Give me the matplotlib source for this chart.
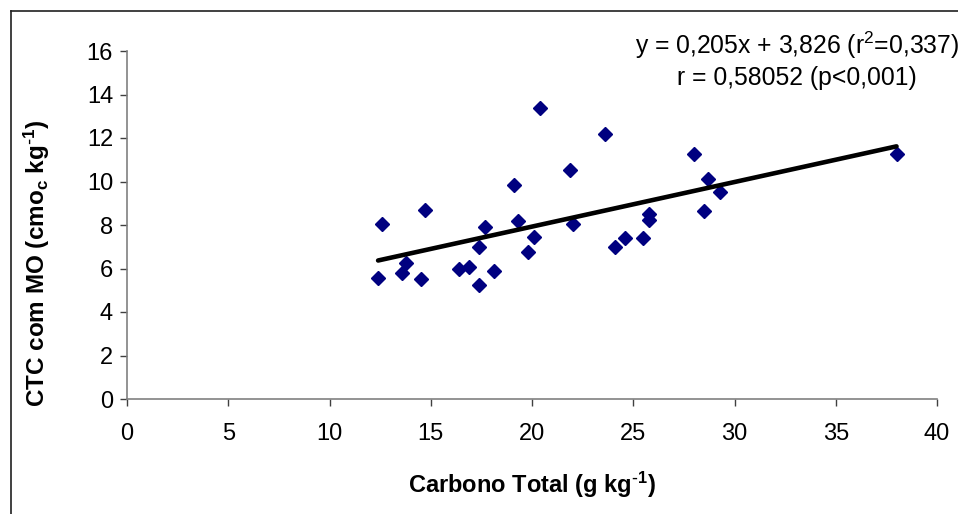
import numpy as np
import matplotlib.pyplot as plt
from matplotlib.lines import Line2D

plt.rcParams['font.family'] = ['Liberation Sans', 'DejaVu Sans']
plt.rcParams['mathtext.default'] = 'regular'
plt.rcParams['axes.unicode_minus'] = False

# data
carbono = [20.4, 23.6, 21.9, 19.1, 14.7, 12.6, 17.7, 19.3, 22.0, 20.1,
           17.4, 19.8, 13.8, 13.6, 12.4, 14.5, 16.4, 16.9, 18.1, 17.4,
           25.8, 25.8, 24.6, 24.1, 25.5, 28.0, 28.7, 29.3, 28.5, 38.0]
ctc = [13.4, 12.2, 10.55, 9.85, 8.7, 8.05, 7.9, 8.2, 8.05, 7.45,
       7.0, 6.75, 6.25, 5.8, 5.55, 5.5, 6.0, 6.05, 5.9, 5.25,
       8.5, 8.25, 7.4, 7.0, 7.4, 11.25, 10.1, 9.5, 8.65, 11.25]
slope = 0.205
intercept = 3.826
eq_text = "y = 0,205x + 3,826 (r$^{2}$=0,337)\nr = 0,58052 (p<0,001)"
xticks = [0, 5, 10, 15, 20, 25, 30, 35, 40]
yticks = [0, 2, 4, 6, 8, 10, 12, 14, 16]

W, H = 958, 514
fig = plt.figure(figsize=(W / 100, H / 100), dpi=100)
ax = fig.add_axes([127 / W, 1 - 399 / H, (937 - 127) / W, (399 - 51) / H])

ax.plot(carbono, ctc, linestyle='none', marker='D', ms=7.5,
        color='#000080', mec='#000080', zorder=3)
xl = np.array([min(carbono), max(carbono)])
ax.plot(xl, slope * xl + intercept, color='black', lw=3.3,
        solid_capstyle='round', zorder=4)

ax.set_xlim(0, 40)
ax.set_ylim(0, 16)
ax.set_xticks(xticks)
ax.set_yticks(yticks)
for s in ['top', 'right']:
    ax.spines[s].set_visible(False)
for s in ['left', 'bottom']:
    ax.spines[s].set_color('#808080')
    ax.spines[s].set_linewidth(1.2)
ax.tick_params(direction='out', length=5, width=1, color='#404040',
               labelsize=17)
ax.tick_params(axis='y', pad=5)
ax.tick_params(axis='x', pad=12)

ax.set_xlabel("Carbono Total (g kg$^{\\text{-}1}$)", fontsize=17,
              fontweight='bold', va='center')
ax.set_ylabel("CTC com MO (cmo$_{c}$ kg$^{\\text{-}1}$)",
              fontsize=17.5, fontweight='bold', va='center')
ax.xaxis.set_label_coords(0.5, (399 - 485) / 348)
ax.yaxis.set_label_coords((37 - 127) / 810, (399 - 263) / 348)

fig.text(797 / W, 1 - 60 / H, eq_text, ha='center', va='center',
         fontsize=17.8, linespacing=1.25)

# outer frame of the chart area
fig.add_artist(Line2D([11 / W, 11 / W], [0, 1 - 11 / H],
                      transform=fig.transFigure, color='#202020', lw=1.2))
fig.add_artist(Line2D([11 / W, 1], [1 - 11 / H, 1 - 11 / H],
                      transform=fig.transFigure, color='#202020', lw=1.2))

fig.savefig('out.png', dpi=100)
